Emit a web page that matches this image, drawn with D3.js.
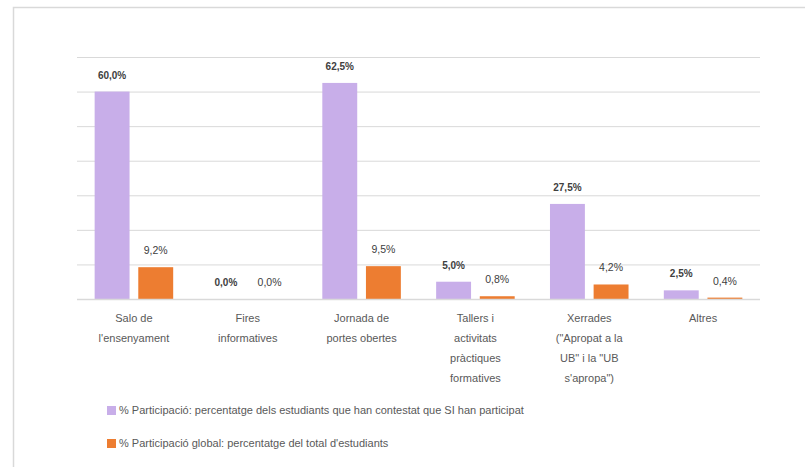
<!DOCTYPE html>
<html>
<head>
<meta charset="utf-8">
<script src="https://cdn.jsdelivr.net/npm/d3@7"></script>
<style>
  body { margin: 0; background: #fff; }
  svg { display: block; font-family: "Liberation Sans", Arial, sans-serif; }
</style>
</head>
<body>
<div id="chart"></div>
<script>
// data
var categories = [
  ["Salo de", "l'ensenyament"],
  ["Fires", "informatives"],
  ["Jornada de", "portes obertes"],
  ["Tallers i", "activitats", "pràctiques", "formatives"],
  ["Xerrades", "(\"Apropat a la", "UB\" i la \"UB", "s'apropa\")"],
  ["Altres"]
];
var participacio = [60.0, 0.0, 62.5, 5.0, 27.5, 2.5];
var participacioGlobal = [9.2, 0.0, 9.5, 0.8, 4.2, 0.4];
var seriesNames = [
  "% Participació: percentatge dels estudiants que han contestat que SI han participat",
  "% Participació global: percentatge del total d'estudiants"
];
var yTicks = [0, 10, 20, 30, 40, 50, 60, 70];

var colors = ["#c8aee9", "#ed7d31"];
var W = 805, H = 467;
var margin = {top: 57, right: 45, bottom: 168, left: 77},
  width = W - margin.left - margin.right,
  height = H - margin.top - margin.bottom;

var svg = d3.select("#chart").append("svg")
  .attr("width", W)
  .attr("height", H);

// outer frame (only top and left edges show)
svg.append("path")
  .attr("d", "M13.5,467 V7.5 H805")
  .attr("fill", "none")
  .attr("stroke", "#d9d9d9")
  .attr("stroke-width", 1.5);

var g = svg.append("g")
  .attr("transform", "translate(" + margin.left + "," + margin.top + ")");

var x = d3.scaleBand()
  .domain(d3.range(categories.length))
  .range([0, width])
  .paddingInner(0.31)
  .paddingOuter(0.155);
var x1 = d3.scaleBand()
  .domain([0, 1])
  .range([0, x.bandwidth()])
  .paddingInner(0.2);
var y = d3.scaleLinear()
  .domain([0, 70])
  .range([height, 0]);

// gridlines
g.append("g")
  .call(d3.axisLeft(y).tickValues(yTicks).tickSize(-width).tickFormat(""))
  .call(function (s) { s.select(".domain").remove(); })
  .selectAll("line")
  .attr("stroke", "#d9d9d9")
  .attr("stroke-width", 1);

var series = [participacio, participacioGlobal];
series.forEach(function (vals, si) {
  var grp = g.append("g");
  grp.selectAll("rect")
    .data(vals)
    .enter().append("rect")
    .attr("x", function (d, i) { return x(i) + x1(si); })
    .attr("width", x1.bandwidth())
    .attr("y", function (d) { return y(d); })
    .attr("height", function (d) { return height - y(d); })
    .attr("fill", colors[si]);

  grp.selectAll("text")
    .data(vals)
    .enter().append("text")
    .attr("x", function (d, i) { return x(i) + x1(si) + x1.bandwidth() / 2; })
    .attr("y", function (d) { return y(d) - 13; })
    .attr("text-anchor", "middle")
    .style("font-size", si === 0 ? "10px" : "10.5px")
    .style("font-weight", si === 0 ? "bold" : "normal")
    .attr("fill", "#404040")
    .text(function (d) { return d.toFixed(1).replace(".", ",") + "%"; });
});

// baseline
g.append("line")
  .attr("x1", 0).attr("x2", width)
  .attr("y1", height + 0.5).attr("y2", height + 0.5)
  .attr("stroke", "#d9d9d9")
  .attr("stroke-width", 1.5);

// category labels
var xAxis = g.append("g")
  .attr("transform", "translate(0," + height + ")");
categories.forEach(function (lines, i) {
  var t = xAxis.append("text")
    .attr("text-anchor", "middle")
    .attr("fill", "#595959")
    .style("font-size", "11px");
  lines.forEach(function (ln, k) {
    t.append("tspan")
      .attr("x", x(i) + x.bandwidth() / 2)
      .attr("y", 23 + k * 20)
      .text(ln);
  });
});

// legend
var legend = svg.append("g");
seriesNames.forEach(function (name, i) {
  var ly = 406 + i * 33;
  legend.append("rect")
    .attr("x", 107).attr("y", ly)
    .attr("width", 9).attr("height", 9)
    .attr("fill", colors[i]);
  legend.append("text")
    .attr("x", 119).attr("y", ly + 8)
    .attr("fill", "#595959")
    .style("font-size", "11px")
    .text(name);
});
</script>
</body>
</html>
